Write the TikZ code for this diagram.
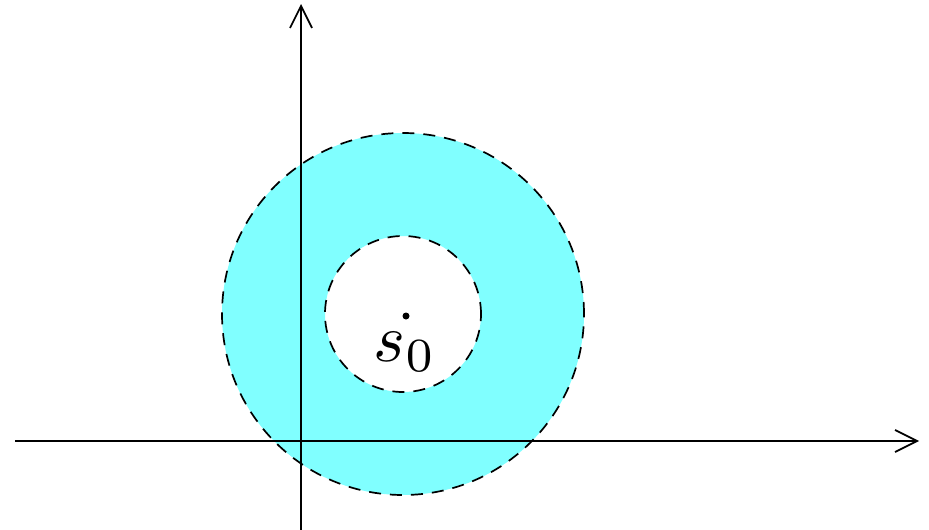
\documentclass[tikz,border=0pt]{standalone}
\usepackage{xcolor}
\usepackage{tikz}
\usetikzlibrary{arrows.meta}
\definecolor{ringcyan}{HTML}{80FFFF}
\tikzset{
  >={Straight Barb[length=22pt,width=22pt]},
  axisline/.style={->,line width=1.7pt,draw=black},
  ringedge/.style={draw=black,line width=1.7pt,dash pattern=on 12pt off 9pt},
  ringfill/.style={fill=ringcyan,even odd rule},
  pointlabel/.style={scale=6.8,inner sep=0pt},
}

\begin{document}
\begin{tikzpicture}[x=1pt,y=-1pt]
  \useasboundingbox (0,0) rectangle (929,530);
  % annulus around s0
  \coordinate (ctr) at (403,314);
  \fill[ringfill] (ctr) circle[radius=181pt] (ctr) circle[radius=78pt];
  \draw[ringedge] (ctr) circle[radius=181pt];
  \draw[ringedge] (ctr) circle[radius=78pt];
  % axes
  \coordinate (xstart) at (15,441);
  \coordinate (xend) at (919,441);
  \coordinate (ystart) at (301,530);
  \coordinate (yend) at (301,4);
  \draw[axisline] (xstart) -- (xend);
  \draw[axisline] (ystart) -- (yend);
  % the point
  \fill (406,316) coordinate (s0) circle[radius=3.5pt];
  \node[pointlabel] (s0label) at (405,352) {$s_0$};
\end{tikzpicture}
\end{document}
